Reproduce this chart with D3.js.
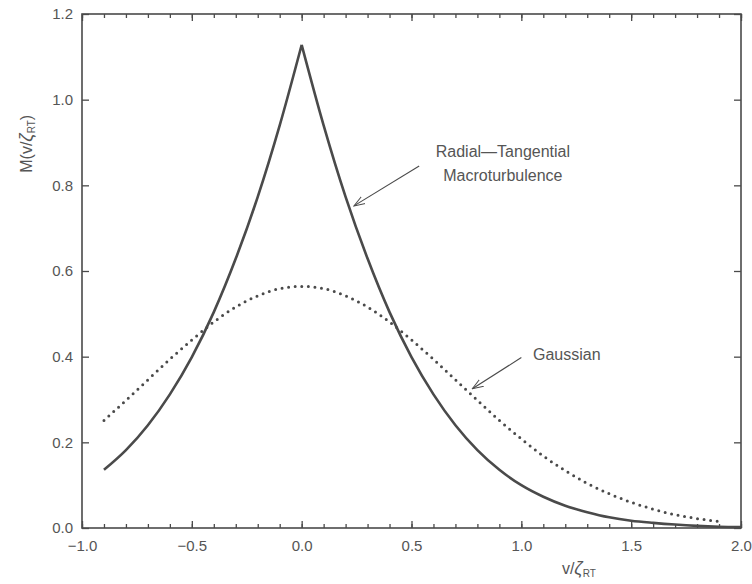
<!DOCTYPE html>
<html>
<head>
<meta charset="utf-8">
<script src="https://cdn.jsdelivr.net/npm/d3@7"></script>
<style>
  body { margin: 0; background: #fff; }
  text { font-family: 'Liberation Sans', 'DejaVu Sans', sans-serif; fill: #555; }
</style>
</head>
<body>
<div id="chart"></div>
<script>
// velocity in units of zeta_RT
const rtX = [-0.9, -0.8, -0.7, -0.6, -0.5, -0.4, -0.3, -0.2, -0.1, 0.0,
  0.1, 0.2, 0.3, 0.4, 0.5, 0.6, 0.7, 0.8, 0.9, 1.0,
  1.1, 1.2, 1.3, 1.4, 1.5, 1.6, 1.7, 1.8, 1.9, 2.0]
const rtY = [0.136, 0.182, 0.240, 0.312, 0.399, 0.504, 0.629, 0.773, 0.940, 1.128,
  0.940, 0.773, 0.629, 0.504, 0.399, 0.312, 0.240, 0.182, 0.136, 0.100,
  0.073, 0.052, 0.037, 0.025, 0.017, 0.012, 0.008, 0.005, 0.003, 0.002]

const gaussX = [-0.9, -0.8, -0.7, -0.6, -0.5, -0.4, -0.3, -0.2, -0.1, 0.0,
  0.1, 0.2, 0.3, 0.4, 0.5, 0.6, 0.7, 0.8, 0.9, 1.0,
  1.1, 1.2, 1.3, 1.4, 1.5, 1.6, 1.7, 1.8, 1.9]
const gaussY = [0.251, 0.298, 0.346, 0.394, 0.439, 0.481, 0.516, 0.542, 0.559, 0.564,
  0.559, 0.542, 0.516, 0.481, 0.439, 0.394, 0.346, 0.298, 0.251, 0.208,
  0.168, 0.134, 0.104, 0.080, 0.060, 0.044, 0.031, 0.022, 0.015]

const xTicks = [-1.0, -0.5, 0.0, 0.5, 1.0, 1.5, 2.0]
const yTicks = [0.0, 0.2, 0.4, 0.6, 0.8, 1.0, 1.2]

const margin = { top: 14, right: 11, bottom: 56, left: 82 }
const width = 752 - margin.left - margin.right
const height = 584 - margin.top - margin.bottom

const svg = d3
  .select('#chart')
  .append('svg')
  .attr('width', 752)
  .attr('height', 584)
  .append('g')
  .attr('transform', 'translate(' + margin.left + ',' + margin.top + ')')

const xPositionScale = d3.scaleLinear().domain([-1, 2]).range([0, width])
const yPositionScale = d3.scaleLinear().domain([0, 1.2]).range([height, 0])

const ink = '#4a4a4a'

// minor ticks every 0.1 on top and bottom
const minorX = d3.range(-10, 21).map(d => d / 10)

svg.append('g')
  .attr('class', 'axis x-minor')
  .attr('transform', 'translate(0,' + height + ')')
  .call(d3.axisBottom(xPositionScale).tickValues(minorX).tickSize(-4).tickFormat(''))
svg.append('g')
  .attr('class', 'axis x-minor')
  .call(d3.axisTop(xPositionScale).tickValues(minorX).tickSize(-4).tickFormat(''))

svg.append('g')
  .attr('class', 'axis x-axis')
  .attr('transform', 'translate(0,' + height + ')')
  .call(d3.axisBottom(xPositionScale).tickValues(xTicks).tickSize(-7).tickPadding(12).tickFormat(d3.format('.1f')))
svg.append('g')
  .attr('class', 'axis x-top')
  .call(d3.axisTop(xPositionScale).tickValues(xTicks).tickSize(-7).tickFormat(''))

svg.append('g')
  .attr('class', 'axis y-axis')
  .call(d3.axisLeft(yPositionScale).tickValues(yTicks).tickSize(-7).tickPadding(9).tickFormat(d3.format('.1f')))
svg.append('g')
  .attr('class', 'axis y-right')
  .attr('transform', 'translate(' + width + ',0)')
  .call(d3.axisRight(yPositionScale).tickValues(yTicks).tickSize(-7).tickFormat(''))

svg.selectAll('.axis .domain').remove()
svg.selectAll('.axis line').attr('stroke', ink).attr('stroke-width', 1.3)
svg.selectAll('.axis text')
  .attr('font-size', 15)
  .attr('fill', '#555')
  .style('font-family', "'Liberation Sans', sans-serif")

svg.append('rect')
  .attr('x', 0)
  .attr('y', 0)
  .attr('width', width)
  .attr('height', height)
  .attr('fill', 'none')
  .attr('stroke', ink)
  .attr('stroke-width', 1.6)

// radial-tangential: two branches so the peak stays sharp
const rtData = rtX.map((x, i) => ({ x: x, y: rtY[i] }))
const peak = rtX.indexOf(0)
const line = d3.line()
  .x(d => xPositionScale(d.x))
  .y(d => yPositionScale(d.y))
  .curve(d3.curveMonotoneX)

svg.append('path')
  .attr('d', line(rtData.slice(0, peak + 1)) + line(rtData.slice(peak)))
  .attr('fill', 'none')
  .attr('stroke', ink)
  .attr('stroke-width', 2.6)
  .attr('stroke-linejoin', 'miter')

const gaussData = gaussX.map((x, i) => ({ x: x, y: gaussY[i] }))
svg.append('path')
  .attr('d', line(gaussData))
  .attr('fill', 'none')
  .attr('stroke', ink)
  .attr('stroke-width', 3)
  .attr('stroke-linecap', 'round')
  .attr('stroke-dasharray', '0 6.6')

// annotations
svg.append('defs').append('marker')
  .attr('id', 'arrow')
  .attr('viewBox', '0 0 12 10')
  .attr('refX', 11)
  .attr('refY', 5)
  .attr('markerWidth', 12)
  .attr('markerHeight', 10)
  .attr('markerUnits', 'userSpaceOnUse')
  .attr('orient', 'auto')
  .append('path')
  .attr('d', 'M0,1 L11,5 L0,9')
  .attr('fill', 'none')
  .attr('stroke', ink)
  .attr('stroke-width', 1)

function arrow(x1, y1, x2, y2) {
  svg.append('line')
    .attr('x1', xPositionScale(x1))
    .attr('y1', yPositionScale(y1))
    .attr('x2', xPositionScale(x2))
    .attr('y2', yPositionScale(y2))
    .attr('stroke', ink)
    .attr('stroke-width', 1.1)
    .attr('marker-end', 'url(#arrow)')
}

arrow(0.535, 0.845, 0.238, 0.752)
arrow(1.000, 0.398, 0.777, 0.325)

svg.append('text')
  .attr('font-size', 16)
  .attr('text-anchor', 'middle')
  .attr('x', xPositionScale(0.916))
  .attr('y', yPositionScale(0.865))
  .text('Radial\u2014Tangential')
svg.append('text')
  .attr('font-size', 16)
  .attr('text-anchor', 'middle')
  .attr('x', xPositionScale(0.916))
  .attr('y', yPositionScale(0.81))
  .text('Macroturbulence')

svg.append('text')
  .attr('font-size', 16)
  .attr('text-anchor', 'start')
  .attr('x', xPositionScale(1.053))
  .attr('y', yPositionScale(0.392))
  .text('Gaussian')

// axis titles
const xTitle = svg.append('text')
  .attr('font-size', 16)
  .attr('text-anchor', 'middle')
  .attr('x', xPositionScale(1.262))
  .attr('y', height + 46)
xTitle.append('tspan').text('v/')
xTitle.append('tspan').attr('font-style', 'italic').attr('font-size', 18).text('\u03b6')
xTitle.append('tspan').attr('font-size', 10).attr('dy', 3).text('RT')

const yTitle = svg.append('text')
  .attr('font-size', 16)
  .attr('text-anchor', 'middle')
  .attr('transform', 'translate(' + (-50) + ',' + yPositionScale(0.897) + ') rotate(-90)')
yTitle.append('tspan').text('M(v/')
yTitle.append('tspan').attr('font-style', 'italic').attr('font-size', 18).text('\u03b6')
yTitle.append('tspan').attr('font-size', 10).attr('dy', 3).text('RT')
yTitle.append('tspan').attr('dy', -3).text(')')
</script>
</body>
</html>
